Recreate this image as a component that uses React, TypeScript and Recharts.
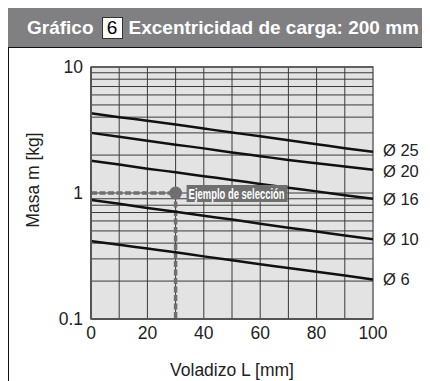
import React from 'react';
import { LineChart, Line, XAxis, YAxis, ReferenceLine, ReferenceArea, ReferenceDot } from 'recharts';

// Overhang L [mm]
const overhang = [0, 10, 20, 30, 40, 50, 60, 70, 80, 90, 100];

// Allowable mass m [kg] per bore size
const bore25 = [4.3, 4.0, 3.75, 3.5, 3.25, 3.02, 2.82, 2.62, 2.44, 2.27, 2.12];
const bore20 = [3.0, 2.8, 2.6, 2.42, 2.26, 2.1, 1.96, 1.83, 1.72, 1.62, 1.53];
const bore16 = [1.8, 1.68, 1.56, 1.46, 1.36, 1.27, 1.18, 1.1, 1.03, 0.96, 0.9];
const bore10 = [0.88, 0.82, 0.76, 0.71, 0.66, 0.615, 0.57, 0.53, 0.495, 0.46, 0.43];
const bore6 = [0.415, 0.388, 0.362, 0.338, 0.314, 0.292, 0.272, 0.254, 0.237, 0.221, 0.206];

const seriesNames = ['Ø 25', 'Ø 20', 'Ø 16', 'Ø 10', 'Ø 6'];
const seriesValues = [bore25, bore20, bore16, bore10, bore6];

const xTicks = [0, 20, 40, 60, 80, 100];
const xGrid = [10, 20, 30, 40, 50, 60, 70, 80, 90];
const yTicks = [0.1, 1, 10];
const yGrid = [0.2, 0.3, 0.4, 0.5, 0.6, 0.7, 0.8, 0.9, 1, 2, 3, 4, 5, 6, 7, 8, 9];

// Selection example: L = 30 mm, m = 1 kg
const exampleL = 30;
const exampleMass = 1;
const exampleText = 'Ejemplo de selección';

const data = overhang.map((L, i) => {
  const row: Record<string, number> = { L };
  seriesNames.forEach((name, s) => {
    row[name] = seriesValues[s][i];
  });
  return row;
});

const horizGuide = [
  { L: 0, m: exampleMass },
  { L: exampleL, m: exampleMass },
];
const vertGuide = [
  { L: exampleL, m: exampleMass },
  { L: exampleL, m: 0.1 },
];

const FONT = '"Liberation Sans", Arial, sans-serif';

// the two top labels sit close together, push them slightly apart
const labelNudge: Record<string, number> = { 'Ø 25': -1.5, 'Ø 20': 1 };

const endLabel = (name: string) => (props: any) => {
  const { x, y, index } = props;
  if (index !== overhang.length - 1) return null;
  return (
    <text x={x + 10} y={y + (labelNudge[name] || 0)} dy={6} fontSize={16.5} fontFamily={FONT} fill="#222">
      {name}
    </text>
  );
};

const exampleLabel = (props: any) => {
  const { viewBox } = props;
  const cx = viewBox.x + viewBox.width / 2;
  const cy = viewBox.y + viewBox.height / 2;
  return (
    <g>
      <rect x={cx + 11} y={cy - 8} width={101} height={17} fill="#6f6f6f" />
      <text
        x={cx + 61}
        y={cy + 5.5}
        textAnchor="middle"
        fontSize={14}
        fontWeight="bold"
        fontFamily={FONT}
        fill="#fff"
        textLength={96}
        lengthAdjust="spacingAndGlyphs"
      >
        {exampleText}
      </text>
    </g>
  );
};

const yTitle = (props: any) => {
  const { viewBox } = props;
  const x = 30;
  const y = viewBox.y + viewBox.height / 2 - 13;
  return (
    <text x={x} y={y} transform={`rotate(-90, ${x}, ${y})`} textAnchor="middle" fontSize={17.5} fontFamily={FONT} fill="#222">
      Masa m [kg]
    </text>
  );
};

export default function App() {
  return (
    <div style={{ width: 422, height: 373, position: 'relative', fontFamily: FONT, overflow: 'hidden' }}>
      <div
        style={{
          height: 39,
          background: '#808083',
          color: '#fff',
          fontWeight: 'bold',
          fontSize: 19,
          display: 'flex',
          alignItems: 'center',
          paddingLeft: 19,
          whiteSpace: 'nowrap',
        }}
      >
        Gráfico
        <span
          style={{
            display: 'inline-block',
            background: '#fff',
            color: '#000',
            fontWeight: 'normal',
            border: '1px solid #333',
            width: 19,
            height: 20,
            lineHeight: '20px',
            textAlign: 'center',
            margin: '0 6px 0 8px',
          }}
        >
          6
        </span>
        Excentricidad de carga: 200 mm
      </div>
      <div style={{ borderTop: '1.5px solid #111', borderLeft: '1.5px solid #111', height: 334, width: 421 }}>
        <LineChart width={421} height={332} data={data} margin={{ top: 19, right: 57, bottom: 0, left: 0 }}>
          <XAxis
            dataKey="L"
            type="number"
            domain={[0, 100]}
            ticks={xTicks}
            tick={{ fontSize: 17.5, fill: '#222', fontFamily: FONT }}
            tickLine={false}
            axisLine={{ stroke: '#555', strokeWidth: 2 }}
            tickMargin={2}
            height={61}
            label={{ value: 'Voladizo L [mm]', position: 'insideBottom', offset: 4, fontSize: 17.5, fill: '#222', fontFamily: FONT }}
          />
          <YAxis
            type="number"
            scale="log"
            domain={[0.1, 10]}
            ticks={yTicks}
            allowDataOverflow
            tickFormatter={(v: number) => String(v)}
            tick={{ fontSize: 17.5, fill: '#222', fontFamily: FONT }}
            tickLine={false}
            axisLine={{ stroke: '#555', strokeWidth: 2 }}
            width={82}
            label={yTitle}
          />
          <ReferenceArea x1={0} x2={100} y1={0.1} y2={10} fill="#e3e3e3" fillOpacity={1} stroke="#666" strokeWidth={1.5} />
          {yGrid.map((v) => (
            <ReferenceLine key={'h' + v} y={v} stroke="#3a3a3a" strokeWidth={1} />
          ))}
          {xGrid.map((v) => (
            <ReferenceLine key={'v' + v} x={v} stroke="#3a3a3a" strokeWidth={1} />
          ))}
          <ReferenceLine y={10} stroke="#555" strokeWidth={1.5} />
          <Line
            data={horizGuide}
            dataKey="m"
            stroke="#6f6f6f"
            strokeWidth={3.5}
            strokeDasharray="6 2.5"
            dot={false}
            isAnimationActive={false}
          />
          <Line
            data={vertGuide}
            dataKey="m"
            stroke="#6f6f6f"
            strokeWidth={3.5}
            strokeDasharray="6 2.5"
            dot={false}
            isAnimationActive={false}
          />
          {seriesNames.map((name) => (
            <Line
              key={name}
              dataKey={name}
              type="monotone"
              stroke="#111"
              strokeWidth={2.5}
              dot={false}
              label={endLabel(name)}
              isAnimationActive={false}
            />
          ))}
          <ReferenceDot x={exampleL} y={exampleMass} r={6.5} fill="#6f6f6f" stroke="none" label={exampleLabel} />
        </LineChart>
      </div>
    </div>
  );
}
